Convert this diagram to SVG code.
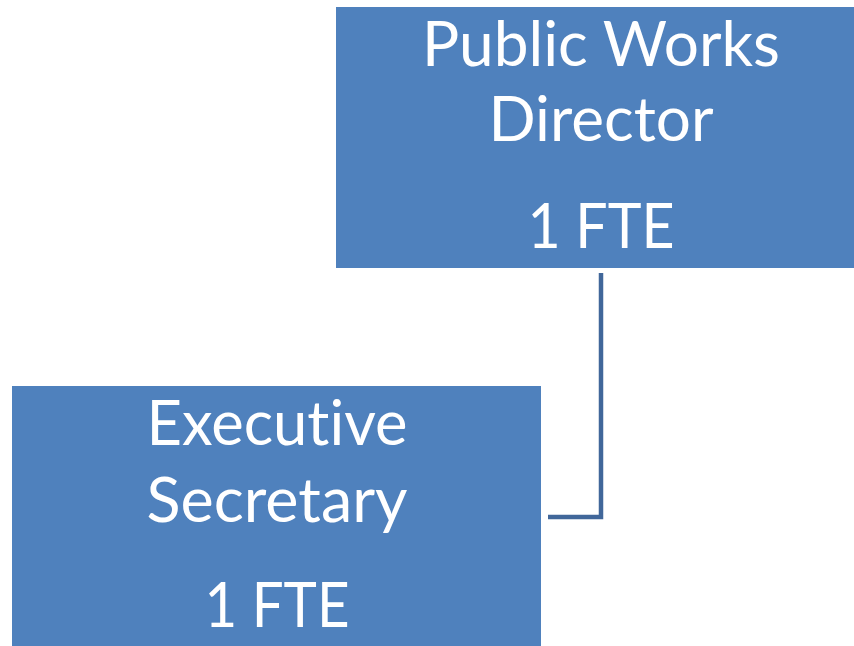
<svg xmlns="http://www.w3.org/2000/svg" width="854" height="646" viewBox="0 0 854 646">
<style>
.box{fill:#4F81BD}
.t{font-family:Lato,"Open Sans","Liberation Sans",sans-serif;font-size:62px;fill:#FFFFFF;text-anchor:middle;font-variant-ligatures:none;font-feature-settings:"liga" 0,"clig" 0,"dlig" 0}
.c{fill:none;stroke:#41679A;stroke-width:4.5}
</style>
<rect width="854" height="646" fill="#FFFFFF"/>
<g id="connectors">
<polyline class="c" points="601,273 601,517 548,517"/>
</g>
<g id="node-director">
<rect class="box" x="336" y="7" width="520" height="261"/>
<text class="t" x="601" y="66" textLength="358" lengthAdjust="spacingAndGlyphs">Public Works</text>
<text class="t" x="601" y="141" textLength="225" lengthAdjust="spacingAndGlyphs">Director</text>
<text class="t" x="601" y="248" textLength="147" lengthAdjust="spacingAndGlyphs">1 FTE</text>
</g>
<g id="node-secretary">
<rect class="box" x="12" y="386" width="529" height="262"/>
<text class="t" x="277" y="445" textLength="261" lengthAdjust="spacingAndGlyphs">Executive</text>
<text class="t" x="277" y="522" textLength="261" lengthAdjust="spacingAndGlyphs">Secretary</text>
<text class="t" x="277" y="627" textLength="145" lengthAdjust="spacingAndGlyphs">1 FTE</text>
</g>
</svg>
